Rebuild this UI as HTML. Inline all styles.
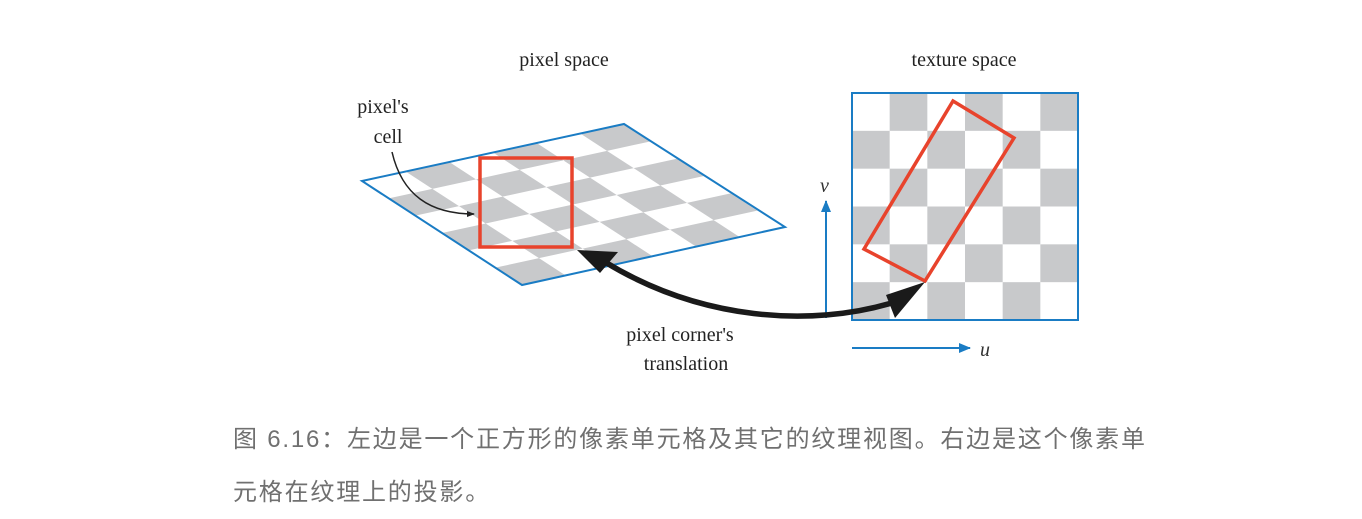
<!DOCTYPE html>
<html><head><meta charset="utf-8"><style>
body{margin:0;background:#fff;width:1362px;height:519px;overflow:hidden;}
svg{position:absolute;left:0;top:0;}
.cap{position:absolute;left:233px;font-family:"Liberation Sans","Noto Sans CJK SC",sans-serif;font-size:24px;line-height:28px;color:#707070;letter-spacing:1.8px;white-space:nowrap;}
</style></head><body>
<svg id="fig" width="1362" height="519" xmlns="http://www.w3.org/2000/svg" font-family="Liberation Serif, serif">
<defs>
<marker id="sa" markerWidth="8" markerHeight="8" refX="7" refY="4" orient="auto" markerUnits="userSpaceOnUse"><path d="M0,1 L8,4 L0,7 Z" fill="#222"/></marker>
<marker id="ba" markerWidth="12" markerHeight="10" refX="11" refY="5" orient="auto" markerUnits="userSpaceOnUse"><path d="M0,0 L12,5 L0,10 Z" fill="#1a7cc4"/></marker>
</defs>
<g id="left"></g>
<polygon points="362,181 624,124 785,227 522,285" fill="none" stroke="#1a7cc4" stroke-width="2"/>
<rect x="480" y="158" width="92" height="89" fill="none" stroke="#e8432c" stroke-width="3.5"/>
<g id="right"></g>
<rect x="852" y="93" width="226" height="227" fill="none" stroke="#1a7cc4" stroke-width="2"/>
<polygon points="953,101 1014,138 925,281 864,249" fill="none" stroke="#e8432c" stroke-width="3.5"/>
<line x1="826" y1="318" x2="826" y2="201" stroke="#1a7cc4" stroke-width="2" marker-end="url(#ba)"/>
<line x1="852" y1="348" x2="970" y2="348" stroke="#1a7cc4" stroke-width="2" marker-end="url(#ba)"/>
<text x="820" y="192" font-size="20" font-style="italic" fill="#333">v</text>
<text x="980" y="356" font-size="20" font-style="italic" fill="#333">u</text>
<path d="M605,262 C700,320 810,328 895,302" fill="none" stroke="#1a1a1a" stroke-width="5.5"/>
<polygon points="577,250 618,252 600,273" fill="#1a1a1a"/>
<polygon points="925,282 886,295 895,318" fill="#1a1a1a"/>
<path d="M392,152 C402,195 430,214 474,214" fill="none" stroke="#222" stroke-width="1.5" marker-end="url(#sa)"/>
<text x="564" y="66" font-size="20" text-anchor="middle" fill="#222">pixel space</text>
<text x="964" y="66" font-size="20" text-anchor="middle" fill="#222">texture space</text>
<text x="383" y="113" font-size="20" text-anchor="middle" fill="#222">pixel's</text>
<text x="388" y="143" font-size="20" text-anchor="middle" fill="#222">cell</text>
<text x="680" y="341" font-size="20" text-anchor="middle" fill="#222">pixel corner's</text>
<text x="686" y="370" font-size="20" text-anchor="middle" fill="#222">translation</text>
</svg>
<div class="cap" style="top:426px">图 6.16：左边是一个正方形的像素单元格及其它的纹理视图。右边是这个像素单</div>
<div class="cap" style="top:479px">元格在纹理上的投影。</div>
<script>
const gridSize = 6;
const ns = "http://www.w3.org/2000/svg";
const L = document.getElementById('left'), R = document.getElementById('right');
const P0=[362,181], PS=[262,-57], PT=[160,104];
function pt(s,t){return [P0[0]+PS[0]*s/gridSize+PT[0]*t/gridSize, P0[1]+PS[1]*s/gridSize+PT[1]*t/gridSize];}
for(let s=0;s<gridSize;s++)for(let t=0;t<gridSize;t++){
  if((s+t)%2===1){
    const p=document.createElementNS(ns,'polygon');
    const a=[pt(s,t),pt(s+1,t),pt(s+1,t+1),pt(s,t+1)];
    p.setAttribute('points',a.map(q=>q.join(',')).join(' '));
    p.setAttribute('fill','#c8c9cb');
    
    
    L.appendChild(p);
  }
  if((s+t)%2===1){
    const r=document.createElementNS(ns,'rect');
    const w=226/gridSize;
    r.setAttribute('x',852+s*w);r.setAttribute('y',93+t*w*227/226);
    r.setAttribute('width',w);r.setAttribute('height',w*227/226);
    r.setAttribute('fill','#c8c9cb');
    
    
    R.appendChild(r);
  }
}
</script>
</body></html>
